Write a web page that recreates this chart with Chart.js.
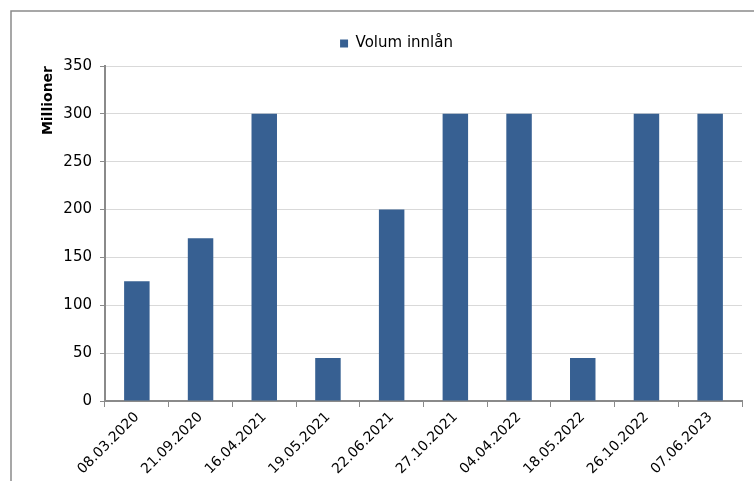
<!DOCTYPE html>
<html>
<head>
<meta charset="utf-8">
<script src="https://cdn.jsdelivr.net/npm/chart.js@4"></script>
<style>
  html, body { margin: 0; padding: 0; background: #fff; }
  #wrap { width: 754px; height: 481px; position: relative; }
</style>
</head>
<body>
<div id="wrap"><canvas id="chart" width="754" height="481"></canvas></div>
<script>
// Datoer og volum (millioner)
const dates = ['08.03.2020', '21.09.2020', '16.04.2021', '19.05.2021', '22.06.2021',
               '27.10.2021', '04.04.2022', '18.05.2022', '26.10.2022', '07.06.2023'];
const volumes = [125, 170, 300, 45, 200, 300, 300, 45, 300, 300];
const yTicks = [0, 50, 100, 150, 200, 250, 300, 350];

const FONT = 'DejaVu Sans, Verdana, sans-serif';

// Ramme rundt hele diagrammet
const framePlugin = {
    id: 'frame',
    afterDraw(chart) {
        const ctx = chart.ctx;
        ctx.save();
        ctx.strokeStyle = '#8a8a8a';
        ctx.lineWidth = 1.5;
        ctx.strokeRect(11, 11, 800, 500);
        ctx.restore();
    }
};

// Mer plass under legenden, og flytt den litt mot høyre
const legendSpace = {
    id: 'legendSpace',
    afterInit(chart) {
        const fit = chart.legend.fit;
        chart.legend.fit = function () {
            fit.call(this);
            this.height += 5;
        };
    },
    afterLayout(chart) {
        chart.legend.left += 51;
        chart.legend.adjustHitBoxes();
    }
};

new Chart(document.getElementById('chart'), {
    type: 'bar',
    data: {
        labels: dates,
        datasets: [{
            label: 'Volum innlån',
            data: volumes,
            backgroundColor: '#376092',
            borderWidth: 0,
            barPercentage: 0.4,
            categoryPercentage: 1
        }]
    },
    options: {
        responsive: false,
        animation: false,
        layout: { padding: { top: 26, right: 12, left: 0, bottom: 0 } },
        plugins: {
            legend: {
                position: 'top',
                labels: {
                    boxWidth: 8,
                    boxHeight: 8,
                    color: '#000',
                    font: { family: FONT, size: 15 }
                }
            },
            tooltip: { enabled: false }
        },
        scales: {
            x: {
                grid: {
                    drawOnChartArea: false,
                    drawTicks: true,
                    tickLength: 6,
                    color: '#8a8a8a',
                    offset: true
                },
                border: { color: '#8a8a8a', width: 2 },
                ticks: {
                    color: '#000',
                    font: { family: FONT, size: 14 },
                    maxRotation: 45,
                    minRotation: 45,
                    padding: 2
                },
                afterFit(scale) { scale.height = 80; }
            },
            y: {
                min: 0,
                max: 350,
                afterBuildTicks(scale) {
                    scale.ticks = yTicks.map(v => ({ value: v }));
                },
                grid: {
                    color: '#d9d9d9',
                    lineWidth: 1,
                    tickColor: '#8a8a8a',
                    tickLength: 5
                },
                border: { color: '#8a8a8a', width: 2 },
                ticks: {
                    color: '#000',
                    font: { family: FONT, size: 15 },
                    padding: 8
                },
                title: {
                    display: true,
                    text: 'Millioner',
                    align: 'end',
                    color: '#000',
                    font: { family: FONT, size: 14, weight: 'bold' },
                    padding: { top: 40, bottom: 0 }
                },
                afterFit(scale) { scale.width = 105; }
            }
        }
    },
    plugins: [framePlugin, legendSpace]
});
</script>
</body>
</html>
